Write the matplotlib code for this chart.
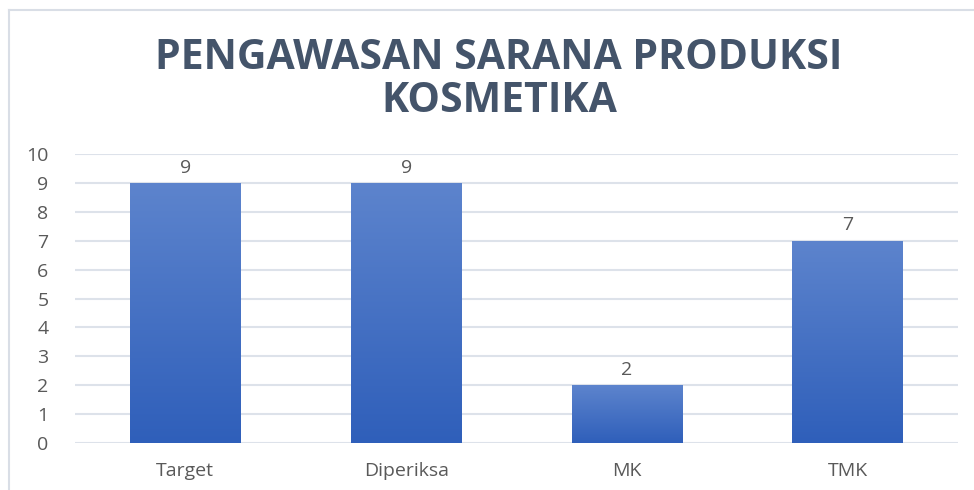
import numpy as np
import matplotlib
matplotlib.use("Agg")
import matplotlib.pyplot as plt
from matplotlib.lines import Line2D
from matplotlib.colors import LinearSegmentedColormap

categories = ["Target", "Diperiksa", "MK", "TMK"]
values = [9, 9, 2, 7]
y_ticks = [0, 1, 2, 3, 4, 5, 6, 7, 8, 9, 10]
title = "PENGAWASAN SARANA PRODUKSI\nKOSMETIKA"

W, H = 974, 490
fig = plt.figure(figsize=(W / 100, H / 100), dpi=100)
fig.patch.set_facecolor("white")

# chart frame (top and left edges)
frame_col = "#D9DEE6"
fig.add_artist(Line2D([9 / W, 1.0], [1 - 10 / H, 1 - 10 / H], color=frame_col, lw=1.5))
fig.add_artist(Line2D([9 / W, 9 / W], [0, 1 - 10 / H], color=frame_col, lw=1.5))

ax = fig.add_axes([75 / W, (H - 443) / H, (958 - 75) / W, (443 - 154) / H])
ax.set_xlim(-0.5, len(categories) - 0.5)
ax.set_ylim(0, 10)

grad = LinearSegmentedColormap.from_list("barfill", ["#2F5FBA", "#5D84CD"])
x = np.arange(len(categories))
bars = ax.bar(x, values, width=0.5, color="#4472C4", zorder=2)
for b in bars:
    x0, w, h = b.get_x(), b.get_width(), b.get_height()
    img = ax.imshow(np.linspace(0, 1, 256).reshape(-1, 1), cmap=grad, origin="lower",
                    extent=[x0, x0 + w, 0, h], aspect="auto", zorder=3)
    img.set_clip_path(b)
    ax.set_xlim(-0.5, len(categories) - 0.5)
    ax.set_ylim(0, 10)

for xi, v in zip(x, values):
    ax.text(xi, v + 0.22, str(v), ha="center", va="bottom", fontsize=14,
            color="#595959", family="Open Sans", zorder=4)

ax.set_yticks(y_ticks)
ax.yaxis.grid(True, color="#DDE2EA", lw=1.5, zorder=0)
ax.set_axisbelow(True)
for s in ax.spines.values():
    s.set_visible(False)
ax.tick_params(axis="both", length=0, labelsize=14, labelcolor="#595959")
ax.tick_params(axis="y", pad=19)
ax.tick_params(axis="x", pad=14)
ax.set_xticks(x)
ax.set_xticklabels(categories, family="Open Sans")
for lbl in ax.get_yticklabels():
    lbl.set_family("Open Sans")

fig.text(499 / W, 1 - 80 / H, title, ha="center", va="center", fontsize=29.5,
         fontweight="bold", color="#44546A", family="Open Sans", linespacing=1.05)

fig.savefig("out.png", dpi=100, facecolor="white")
